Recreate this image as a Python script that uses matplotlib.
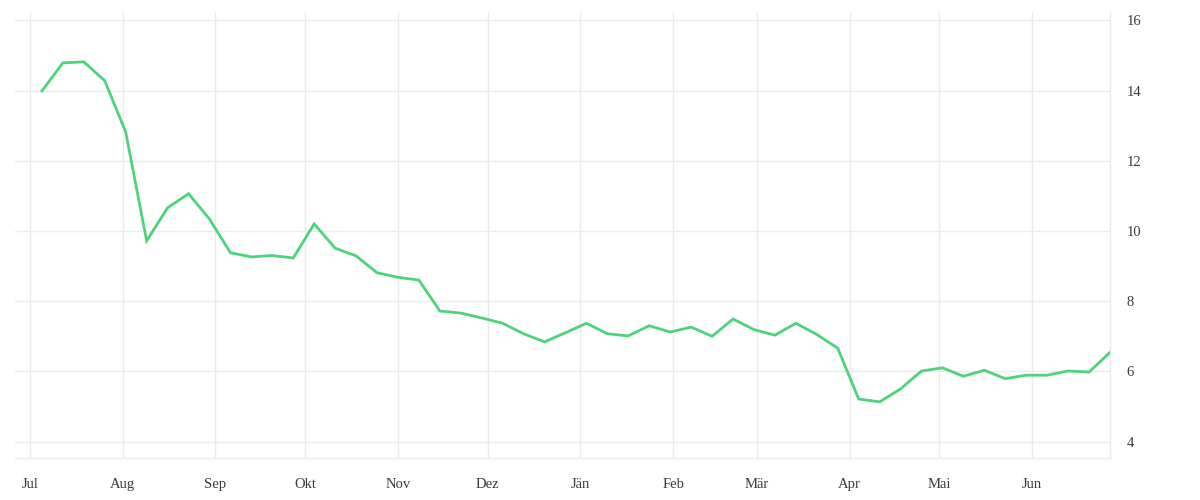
import matplotlib
matplotlib.use("Agg")
import matplotlib.pyplot as plt
import matplotlib.dates as mdates
import pandas as pd

# Data
start_date = "2022-07-05"
values = [13.99, 14.79, 14.82, 14.28, 12.82, 9.72, 10.66, 11.06, 10.34, 9.38,
          9.26, 9.30, 9.23, 10.20, 9.51, 9.29, 8.81, 8.68, 8.60, 7.72,
          7.66, 7.52, 7.37, 7.07, 6.84, 7.10, 7.37, 7.07, 7.01, 7.30,
          7.12, 7.26, 7.00, 7.49, 7.19, 7.03, 7.37, 7.05, 6.66, 5.21,
          5.13, 5.50, 6.01, 6.10, 5.86, 6.03, 5.79, 5.89, 5.89, 6.01,
          5.98, 6.54]
month_labels = ["Jul", "Aug", "Sep", "Okt", "Nov", "Dez", "Jän", "Feb", "Mär", "Apr", "Mai", "Jun"]
month_starts = pd.date_range("2022-07-01", periods=12, freq="MS")
y_ticks = [4, 6, 8, 10, 12, 14, 16]

dates = pd.date_range(start_date, periods=len(values), freq="7D")

plt.rcParams['font.family'] = ['Liberation Serif', 'DejaVu Serif']

fig = plt.figure(figsize=(12, 5), dpi=100)
ax = fig.add_axes([0.0125, 0.084, 0.9125, 0.892])

ax.plot(dates, values, color="#4ed27a", linewidth=2.0, solid_joinstyle="miter", zorder=3)

ax.set_xlim(pd.Timestamp("2022-06-26"), dates[-1])
ax.set_ylim(3.53, 16.24)

ax.set_xticks(month_starts)
ax.set_xticklabels(month_labels)
ax.set_yticks(y_ticks)
ax.set_yticklabels([str(t) for t in y_ticks])

ax.yaxis.tick_right()
ax.tick_params(axis="both", length=0, labelsize=10.5, labelcolor="#3a3a3a")
ax.tick_params(axis="y", pad=12)
ax.tick_params(axis="x", pad=14.5)

ax.grid(True, color="#ebebeb", linewidth=1)
ax.set_axisbelow(True)
for s in ["top", "left"]:
    ax.spines[s].set_visible(False)
for s in ["bottom", "right"]:
    ax.spines[s].set_color("#ebebeb")
    ax.spines[s].set_linewidth(1)

fig.savefig("out.png", dpi=100)
